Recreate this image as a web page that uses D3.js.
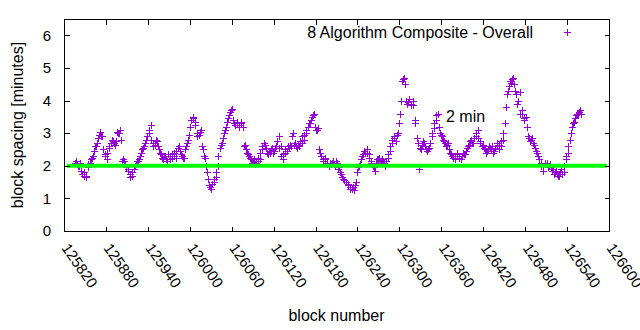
<!DOCTYPE html>
<html>
<head>
<meta charset="utf-8">
<script src="https://cdn.jsdelivr.net/npm/d3@7"></script>
<style>
  html, body { margin: 0; padding: 0; background: #fff; }
  svg { display: block; }
  text { font-family: "Liberation Sans", Arial, sans-serif; fill: #000; }
</style>
</head>
<body>
<svg id="chart" width="640" height="330"></svg>
<script>
// Block spacing samples. Two interleaved sample sets, each taken every
// `blockStep` blocks: set A starts at `firstBlock`, set B one block later.
const firstBlock = 125836;
const blockStep = 3;
const spacingA = [
  2.1, 2.05, 2.0, 1.85, 1.7, 1.65, 1.95, 2.1, 2.25, 2.45,
  2.6, 2.85, 3.05, 2.9, 2.35, 2.2, 2.55, 2.7, 2.75, 2.65,
  3.05, 3.0, 2.8, 2.2, 2.05, 1.9, 1.75, 1.7, 1.9, 2.05,
  2.15, 2.3, 2.5, 2.6, 2.8, 3.0, 3.25, 2.7, 2.65, 2.75,
  2.5, 2.35, 2.2, 2.3, 2.15, 2.3, 2.25, 2.4, 2.25, 2.55,
  2.45, 2.3, 2.25, 2.6, 2.8, 3.2, 3.5, 3.35, 3.0, 2.95,
  3.1, 2.5, 2.25, 1.8, 1.4, 1.3, 1.5, 1.65, 2.0, 2.55,
  2.7, 3.0, 3.2, 3.45, 3.65, 3.75, 3.3, 3.35, 3.25, 3.3,
  3.2, 2.65, 2.4, 2.3, 2.2, 2.15, 2.05, 2.15, 2.2, 2.5,
  2.7, 2.55, 2.35, 2.4, 2.55, 2.45, 2.6, 2.9, 2.6, 2.2,
  2.4, 2.45, 2.55, 2.6, 3.0, 2.7, 2.55, 2.6, 2.7, 2.8,
  3.0, 3.2, 3.3, 3.5, 3.6, 3.1, 3.15, 2.4, 2.2, 2.25,
  2.1, 2.0, 2.05, 2.15, 2.0, 2.1, 1.95, 1.75, 1.6, 1.5,
  1.45, 1.35, 1.3, 1.25, 1.5, 1.95, 2.05, 2.3, 2.45, 2.5,
  2.35, 2.15, 2.0, 1.85, 2.2, 2.25, 2.1, 2.15, 2.0, 2.25,
  2.45, 2.7, 2.9, 2.75, 3.0, 3.6, 4.6, 4.7, 4.0, 3.95,
  3.85, 4.0, 3.3, 2.85, 1.9, 2.5, 2.75, 2.6, 2.45, 2.55,
  2.9, 3.15, 3.4, 3.6, 3.0, 2.9, 2.75, 2.6, 2.7, 2.4,
  2.3, 2.2, 2.35, 2.3, 2.2, 2.4, 2.35, 2.55, 2.65, 2.8,
  2.7, 2.9, 3.1, 2.75, 2.6, 2.55, 2.4, 2.5, 2.55, 2.6,
  2.45, 2.7, 2.5, 2.6, 2.8, 3.3, 4.2, 4.45, 4.55, 4.7,
  4.3, 3.9, 4.25, 3.7, 3.45, 3.5, 2.9, 2.75, 2.85, 2.65,
  2.45, 2.3, 2.1, 1.85, 2.05, 2.1, 2.0, 1.95, 1.9, 1.8,
  1.75, 1.7, 1.9, 1.8, 2.2, 2.4, 2.8, 3.2, 3.35, 3.55,
  3.6, 3.7
];
const spacingB = [
  2.15, 2.0, 2.1, 1.75, 1.8, 1.7, 2.05, 2.2, 2.3, 2.6,
  2.7, 2.95, 2.9, 2.5, 2.3, 2.4, 2.6, 2.8, 2.7, 2.75,
  3.0, 3.1, 2.15, 2.15, 1.95, 1.85, 1.65, 1.8, 2.0, 2.15,
  2.2, 2.4, 2.55, 2.7, 2.9, 3.1, 2.8, 2.6, 2.8, 2.6,
  2.4, 2.25, 2.3, 2.2, 2.35, 2.2, 2.35, 2.3, 2.45, 2.6,
  2.35, 2.25, 2.5, 2.7, 2.95, 3.4, 3.45, 3.25, 2.9, 3.05,
  2.6, 2.3, 2.0, 1.6, 1.35, 1.45, 1.6, 1.8, 2.3, 2.65,
  2.85, 3.1, 3.35, 3.55, 3.7, 3.4, 3.25, 3.3, 3.2, 3.35,
  2.6, 2.5, 2.35, 2.25, 2.1, 2.2, 2.1, 2.25, 2.4, 2.6,
  2.65, 2.4, 2.45, 2.5, 2.4, 2.55, 2.75, 2.55, 2.3, 2.35,
  2.5, 2.6, 2.65, 2.9, 2.65, 2.6, 2.65, 2.75, 2.9, 2.95,
  3.1, 3.3, 3.4, 3.55, 3.2, 3.1, 2.5, 2.3, 2.15, 2.2,
  2.05, 2.1, 2.1, 2.05, 2.15, 1.9, 1.8, 1.65, 1.55, 1.5,
  1.4, 1.3, 1.35, 1.4, 1.8, 2.0, 2.2, 2.35, 2.4, 2.4,
  2.25, 2.1, 1.95, 2.1, 2.2, 2.15, 2.2, 2.1, 2.15, 2.35,
  2.6, 2.8, 2.85, 2.95, 3.3, 4.0, 4.65, 4.5, 3.9, 4.05,
  3.9, 3.85, 3.4, 2.7, 2.55, 2.65, 2.7, 2.5, 2.5, 2.7,
  3.0, 3.3, 3.55, 3.2, 2.95, 2.8, 2.7, 2.65, 2.5, 2.35,
  2.25, 2.3, 2.4, 2.25, 2.3, 2.35, 2.45, 2.6, 2.75, 2.7,
  2.85, 3.0, 2.85, 2.7, 2.65, 2.5, 2.45, 2.6, 2.5, 2.4,
  2.55, 2.6, 2.65, 2.75, 3.0, 3.8, 4.3, 4.6, 4.65, 4.5,
  4.2, 4.0, 3.6, 3.6, 3.4, 3.2, 2.85, 2.8, 2.7, 2.55,
  2.4, 2.2, 2.0, 2.0, 2.1, 1.95, 2.05, 1.85, 1.75, 1.85,
  1.7, 1.8, 1.75, 2.0, 2.3, 2.6, 3.0, 3.3, 3.45, 3.6,
  3.65, 3.6
];

// Two-minute reference line
const targetMinutes = 2;
const targetBlocks = [125824, 126597];

const xTicks = [125820, 125880, 125940, 126000, 126060, 126120, 126180,
                126240, 126300, 126360, 126420, 126480, 126540, 126600];
const yTicks = [0, 1, 2, 3, 4, 5, 6];

const seriesTitle = "8 Algorithm Composite - Overall";
const targetLabel = "2 min";
const xTitle = "block number";
const yTitle = "block spacing [minutes]";

const purple = "#9400d3";
const green = "#00ff00";

const svg = d3.select("#chart");
const plotLeft = 64, plotRight = 609, plotTop = 19, plotBottom = 231;

const x = d3.scaleLinear().domain([125820, 126600]).range([plotLeft, plotRight]);
const y = d3.scaleLinear().domain([0, 6.5]).range([plotBottom, plotTop]);

const points = spacingA.map((v, i) => ({ block: firstBlock + i * blockStep, value: v }))
  .concat(spacingB.map((v, i) => ({ block: firstBlock + 1 + i * blockStep, value: v })));

const crossPath = "M-3.5,0H3.5M0,-3.5V3.5";

// Data points as "+" markers
svg.append("g")
  .selectAll("path")
  .data(points)
  .join("path")
  .attr("d", crossPath)
  .attr("transform", d => `translate(${Math.round(x(d.block)) + 0.5},${Math.round(y(d.value)) + 0.5})`)
  .attr("fill", "none")
  .attr("stroke", purple)
  .attr("stroke-width", 1)
  .attr("shape-rendering", "crispEdges");

// Reference line at 2 minutes
svg.append("line")
  .attr("x1", x(targetBlocks[0]))
  .attr("x2", x(targetBlocks[1]))
  .attr("y1", y(targetMinutes))
  .attr("y2", y(targetMinutes))
  .attr("stroke", green)
  .attr("stroke-width", 4);

// Axes with inward ticks, mirrored on the opposite sides
const tickLen = 5;
const axisG = svg.append("g").attr("shape-rendering", "crispEdges");

const xBottom = d3.axisBottom(x).tickValues(xTicks).tickSize(-tickLen).tickFormat("");
const xTopAxis = d3.axisTop(x).tickValues(xTicks).tickSize(-tickLen).tickFormat("");
const yLeft = d3.axisLeft(y).tickValues(yTicks).tickSize(-tickLen).tickFormat("");
const yRight = d3.axisRight(y).tickValues(yTicks).tickSize(-tickLen).tickFormat("");

function styleAxis(g) {
  g.select(".domain").remove();
  g.selectAll(".tick line").attr("stroke", "#000");
}
axisG.append("g").attr("transform", `translate(0,${plotBottom + 0.5})`).call(xBottom).call(styleAxis);
axisG.append("g").attr("transform", `translate(0,${plotTop + 0.5})`).call(xTopAxis).call(styleAxis);
axisG.append("g").attr("transform", `translate(${plotLeft + 0.5},0)`).call(yLeft).call(styleAxis);
axisG.append("g").attr("transform", `translate(${plotRight + 0.5},0)`).call(yRight).call(styleAxis);

// Plot frame
axisG.append("rect")
  .attr("x", plotLeft + 0.5).attr("y", plotTop + 0.5)
  .attr("width", plotRight - plotLeft).attr("height", plotBottom - plotTop)
  .attr("fill", "none").attr("stroke", "#000").attr("stroke-width", 1);

// Y tick labels
svg.append("g")
  .selectAll("text")
  .data(yTicks)
  .join("text")
  .attr("x", 51)
  .attr("y", d => y(d))
  .attr("dy", "0.35em")
  .attr("text-anchor", "end")
  .attr("font-size", 15)
  .text(d => d);

// X tick labels, rotated
svg.append("g")
  .selectAll("text")
  .data(xTicks)
  .join("text")
  .attr("transform", d => `translate(${x(d) - 3},${plotBottom + 17}) rotate(55)`)
  .attr("text-anchor", "start")
  .attr("font-size", 15)
  .text(d => d);

// Axis titles
svg.append("text")
  .attr("x", (plotLeft + plotRight) / 2)
  .attr("y", 321)
  .attr("text-anchor", "middle")
  .attr("font-size", 16)
  .text(xTitle);

svg.append("text")
  .attr("transform", `translate(23,${(plotTop + plotBottom) / 2}) rotate(-90)`)
  .attr("text-anchor", "middle")
  .attr("font-size", 16)
  .text(yTitle);

// Legend
svg.append("text")
  .attr("x", 533)
  .attr("y", 38)
  .attr("text-anchor", "end")
  .attr("font-size", 16)
  .text(seriesTitle);

svg.append("path")
  .attr("d", crossPath)
  .attr("transform", "translate(567.5,32.5)")
  .attr("fill", "none")
  .attr("stroke", purple)
  .attr("stroke-width", 1)
  .attr("shape-rendering", "crispEdges");

// Annotation for the reference line
svg.append("text")
  .attr("x", 446)
  .attr("y", 122)
  .attr("font-size", 16)
  .text(targetLabel);
</script>
</body>
</html>
